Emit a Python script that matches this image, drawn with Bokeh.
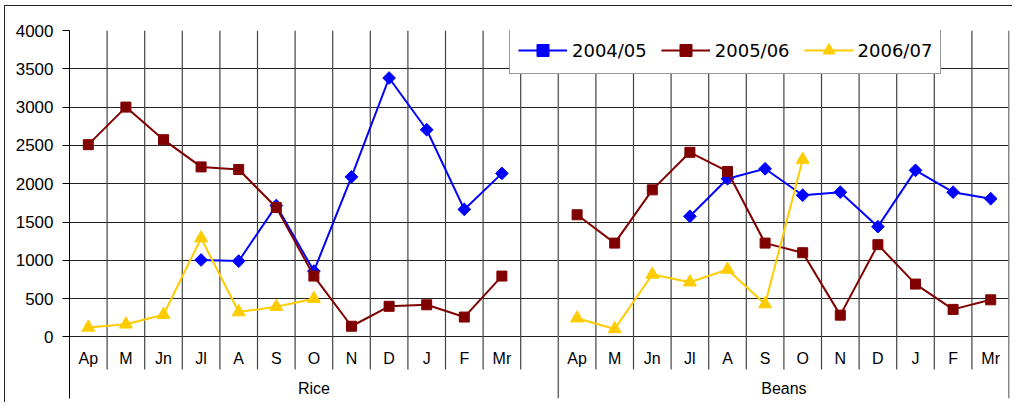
import math
from bokeh.plotting import figure
from bokeh.models import Range1d, FixedTicker, Legend, LegendItem, ColumnDataSource
from bokeh.core.properties import value
from bokeh.embed import file_html
from bokeh.resources import INLINE

nan = float("nan")
months = ["Ap", "M", "Jn", "Jl", "A", "S", "O", "N", "D", "J", "F", "Mr"]
groups = ["Rice", "Beans"]
series_names = ["2004/05", "2005/06", "2006/07"]
y_ticks = [0, 500, 1000, 1500, 2000, 2500, 3000, 3500, 4000]

rice_0405 = [nan, nan, nan, 1005, 990, 1715, 860, 2090, 3380, 2705, 1665, 2135]
rice_0506 = [2510, 3000, 2575, 2220, 2185, 1690, 795, 140, 400, 420, 260, 795]
rice_0607 = [125, 165, 290, 1290, 325, 395, 500, nan, nan, nan, nan, nan]
beans_0405 = [nan, nan, nan, 1575, 2065, 2195, 1850, 1890, 1440, 2175, 1890, 1805]
beans_0506 = [1595, 1225, 1920, 2410, 2160, 1225, 1100, 285, 1205, 690, 360, 485]
beans_0607 = [245, 105, 815, 715, 880, 430, 2315, nan, nan, nan, nan, nan]

colors = ["#0000FF", "#800000", "#FFCC00"]

# category layout: Rice has 12 months + one blank slot, Beans 12 months
n_rice = len(months) + 1
n_total = n_rice + len(months)
rice_x = [i + 0.5 for i in range(len(months))]
beans_x = [n_rice + i + 0.5 for i in range(len(months))]

Y_BOTTOM = -803
MONTH_SEP_BOTTOM = -424
MONTH_LABEL_Y = -285
GROUP_LABEL_Y = -675

p = figure(width=1008, height=397, output_backend="svg", toolbar_location=None,
           x_range=Range1d(0, n_total), y_range=Range1d(Y_BOTTOM, 4000),
           x_axis_location=None, min_border_left=64, min_border_right=4,
           min_border_top=24, min_border_bottom=5)
p.styles = {"position": "relative", "left": "4px", "top": "5px",
            "border-top": "1px solid #222", "border-left": "1px solid #222"}
p.outline_line_color = None
p.background_fill_color = "white"
p.border_fill_color = "white"

p.xgrid.visible = False
p.ygrid.ticker = FixedTicker(ticks=y_ticks)
p.ygrid.grid_line_color = "#222222"
p.ygrid.grid_line_width = 1

ax = p.yaxis[0]
ax.ticker = FixedTicker(ticks=y_ticks)
ax.axis_line_color = "black"
ax.major_tick_line_color = "black"
ax.major_tick_out = 7
ax.major_tick_in = 0
ax.minor_tick_line_color = None
ax.major_label_text_font = "Liberation Sans"
ax.major_label_text_font_size = "17px"
ax.major_label_text_color = "black"
ax.major_label_standoff = 9

# vertical grid / separator lines
bounds = list(range(1, n_total))
sep_x = [b for b in bounds if b != n_rice]
p.segment(x0=sep_x, y0=[4000] * len(sep_x), x1=sep_x, y1=[MONTH_SEP_BOTTOM] * len(sep_x),
          line_color="#444444", line_width=1.2)
p.segment(x0=[n_rice], y0=[4000], x1=[n_rice], y1=[Y_BOTTOM], line_color="#666666", line_width=1.5)
p.segment(x0=[n_total], y0=[4000], x1=[n_total], y1=[Y_BOTTOM], line_color="#888888", line_width=3)

# category labels
p.text(x=rice_x + beans_x, y=[MONTH_LABEL_Y] * (2 * len(months)), text=months + months,
       text_align="center", text_baseline="middle", text_font=value("Liberation Sans"),
       text_font_size="16px", text_color="black")
p.text(x=[n_rice / 2, n_rice + len(months) / 2], y=[GROUP_LABEL_Y] * 2, text=groups,
       text_align="center", text_baseline="middle", text_font=value("Liberation Sans"),
       text_font_size="16px", text_color="black")

series = [(rice_0405, beans_0405), (rice_0506, beans_0506), (rice_0607, beans_0607)]
items = []
for k, (rv, bv) in enumerate(series):
    c = colors[k]
    rends = []
    for xs, ys in ((rice_x, rv), (beans_x, bv)):
        src = ColumnDataSource(dict(x=xs, y=ys))
        ln = p.line("x", "y", source=src, line_color=c, line_width=2)
        if k == 0:
            mk = p.scatter("x", "y", source=src, marker="square", angle=math.pi / 4, size=9,
                           fill_color=c, line_color=c)
        elif k == 1:
            mk = p.scatter("x", "y", source=src, marker="square", size=10,
                           fill_color=c, line_color=c)
        else:
            mk = p.scatter("x", "y", source=src, marker="triangle", size=13,
                           fill_color=c, line_color=c)
        rends += [ln, mk]
    items.append(LegendItem(label=series_names[k], renderers=rends[:2]))

legend = Legend(items=items, orientation="horizontal", location=(440, 324),
                glyph_width=49, glyph_height=30, label_height=30, label_standoff=5,
                spacing=14, padding=8, margin=0,
                label_text_font="DejaVu Sans", label_text_font_size="18px",
                label_text_color="black", border_line_color="#333333",
                border_line_width=1, background_fill_color="white", background_fill_alpha=1)
p.add_layout(legend)

open("out.html", "w").write(file_html(p, INLINE))
